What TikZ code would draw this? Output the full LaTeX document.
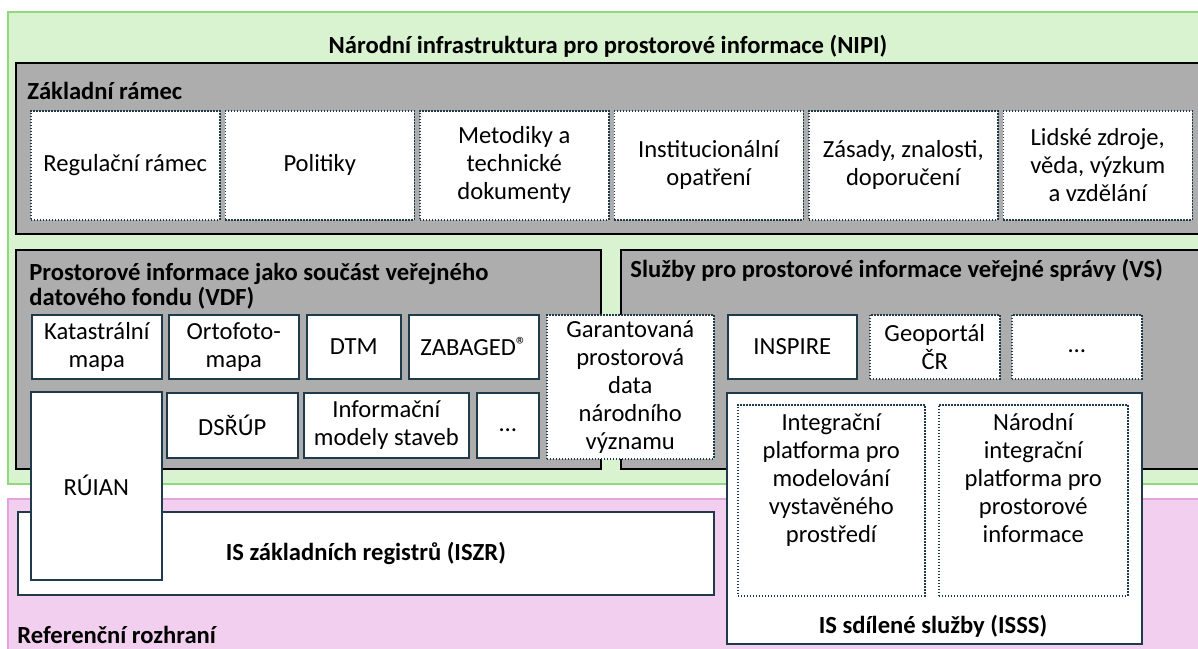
\documentclass[tikz,border=0pt]{standalone}
\usepackage{fontspec}
\setmainfont{Carlito}
\usepackage{tikz}

\definecolor{greenfill}{HTML}{D9F2D0}
\definecolor{greenline}{HTML}{8ED97A}
\definecolor{grayfill}{HTML}{ADADAD}
\definecolor{pinkfill}{HTML}{F2CEEF}
\definecolor{pinkline}{HTML}{E4A3DC}
\definecolor{boxline}{HTML}{1F3A4A}

\begin{document}
\begin{tikzpicture}[x=0.5pt, y=-0.5pt,
  every node/.style={font=\fontsize{12.3}{14}\selectfont, inner sep=0pt, align=center},
  head/.style={font=\fontsize{12.3}{12.5}\selectfont\bfseries, align=left},
  frame/.style={draw=black, line width=1pt, fill=grayfill, anchor=north west},
  solidbox/.style={draw=boxline, line width=0.8pt, fill=white, anchor=north west},
  dotbox/.style={draw=boxline, line width=0.75pt, dash pattern=on 0.75pt off 0.75pt, fill=white, anchor=north west}]
\useasboundingbox (0,0) rectangle (1198,648);
% outer layers
\node[draw=greenline, line width=1.2pt, fill=greenfill, anchor=north west, minimum width=599pt, minimum height=236pt] (nipi) at (7,11) {};
\node[head] (nipititle) at (608,46) {Národní infrastruktura pro prostorové informace (NIPI)};
\node[draw=pinkline, line width=0.8pt, fill=pinkfill, anchor=north west, minimum width=599pt, minimum height=81pt] (rr) at (7,498) {};
\node[head, anchor=west] (rrtitle) at (17,635) {Referenční rozhraní};
% Zakladni ramec
\node[frame, minimum width=595pt, minimum height=85.5pt] (ramec) at (15,62) {};
\node[head, anchor=west] (ramectitle) at (27,91) {Základní rámec};
\node[dotbox, minimum width=94.5pt, minimum height=54.5pt] (reg) at (30,110) {Regulační rámec};
\node[dotbox, minimum width=94.5pt, minimum height=54.5pt] (pol) at (224.5,110) {Politiky};
\node[dotbox, minimum width=94.5pt, minimum height=54.5pt] (met) at (419,110) {Metodiky a\\technické\\dokumenty};
\node[dotbox, minimum width=94.5pt, minimum height=54.5pt] (inst) at (613.5,110) {Institucionální\\opatření};
\node[dotbox, minimum width=94.5pt, minimum height=54.5pt] (zas) at (808,110) {Zásady, znalosti,\\doporučení};
\node[dotbox, minimum width=94.5pt, minimum height=54.5pt] (lid) at (1002.5,110) {Lidské zdroje,\\věda, výzkum\\a vzdělání};
% VDF
\node[frame, minimum width=292.5pt, minimum height=109.5pt] (vdf) at (15,249) {};
\node[head, anchor=north west] (vdftitle) at (29,263) {Prostorové informace jako součást veřejného\\datového fondu (VDF)};
\node[solidbox, minimum width=65pt, minimum height=32pt] (kat) at (31,314) {Katastrální\\mapa};
\node[solidbox, minimum width=65pt, minimum height=32pt] (orto) at (168,314) {Ortofoto-\\mapa};
\node[solidbox, minimum width=47pt, minimum height=32pt] (dtm) at (306,314) {DTM};
\node[solidbox, minimum width=65pt, minimum height=32pt] (zab) at (408,314) {ZABAGED\raisebox{1.5pt}{\fontsize{11}{11}\selectfont\textregistered}};
\node[solidbox, minimum width=65.5pt, minimum height=32.5pt] (dsrup) at (166,392) {DSŘÚP};
\node[solidbox, minimum width=82.5pt, minimum height=32.5pt] (ims) at (303,392) {Informační\\modely staveb};
\node[solidbox, minimum width=31pt, minimum height=32.5pt] (vdfdots) at (476,392) {\vphantom{Ag}\dots};
% VS
\node[frame, minimum width=292.5pt, minimum height=109.5pt] (vs) at (620,249) {};
\node[head, anchor=west] (vstitle) at (630,270) {Služby pro prostorové informace veřejné správy (VS)};
\node[solidbox, minimum width=64.5pt, minimum height=32pt] (insp) at (727,314) {INSPIRE};
\node[dotbox, minimum width=65pt, minimum height=32pt] (geo) at (869,314) {Geoportál\\ČR};
\node[dotbox, minimum width=65pt, minimum height=32pt] (vsdots) at (1011,314) {\vphantom{Ag}\dots};
\node[dotbox, minimum width=83.5pt, minimum height=72pt] (gar) at (546,314) {Garantovaná\\prostorová\\data\\národního\\významu};
% ISZR, RUIAN, ISSS
\node[solidbox, minimum width=348pt, minimum height=41.5pt, font=\fontsize{12.3}{14}\selectfont\bfseries] (iszr) at (17,511) {IS základních registrů (ISZR)};
\node[solidbox, minimum width=65.5pt, minimum height=94pt] (ruian) at (30,391) {RÚIAN};
\node[solidbox, minimum width=207.5pt, minimum height=125.5pt] (isss) at (726,392) {};
\node[head, align=center] (issstitle) at (933,626) {IS sdílené služby (ISSS)};
\node[dotbox, minimum width=93.5pt, minimum height=95.5pt] (integ) at (737,404) {};
\node[anchor=north] (integtext) at ([yshift=-4.5pt]integ.north) {Integrační\\platforma pro\\modelování\\vystavěného\\prostředí};
\node[dotbox, minimum width=94.5pt, minimum height=95.5pt] (nipl) at (938,404) {};
\node[anchor=north] (nipltext) at ([yshift=-4.5pt]nipl.north) {Národní\\integrační\\platforma pro\\prostorové\\informace};
\end{tikzpicture}
\end{document}
